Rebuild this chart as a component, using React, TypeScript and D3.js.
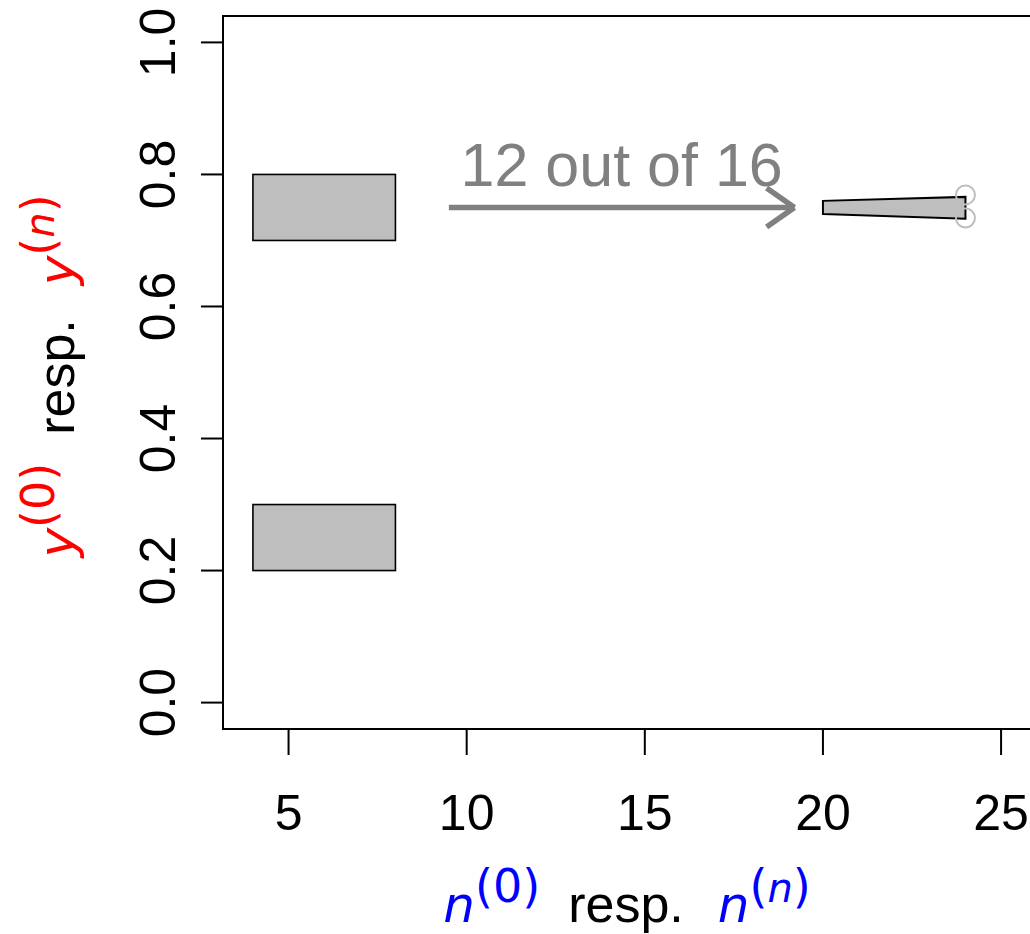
import React from "react";
import * as d3 from "d3";

const xTicks = [5, 10, 15, 20, 25];
const yTicks = [0, 0.2, 0.4, 0.6, 0.8, 1.0];
const yTickLabels = ["0.0", "0.2", "0.4", "0.6", "0.8", "1.0"];

// prior rectangles
const priorX0 = [4, 4];
const priorX1 = [8, 8];
const priorY0 = [0.7, 0.2];
const priorY1 = [0.8, 0.3];

// posterior trapezoid
const postX = [20, 24];
const postLower = [0.74, 0.733];
const postUpper = [0.76, 0.766];

// end points
const pointX = [24, 24];
const pointY = [0.769, 0.734];

// arrow
const arrowX = [9.5, 19.2];
const arrowY = 0.75;
const arrowLabel = "12 out of 16";
const arrowLabelY = 0.782;

const W = 1030;
const H = 934;

export default function App() {
  const x = d3.scaleLinear().domain([3.16, 25.84]).range([223, 1031]);
  const y = d3.scaleLinear().domain([-0.04, 1.04]).range([729, 16]);
  const font = "'Liberation Sans', Arial, sans-serif";
  const mathFont = "'DejaVu Sans', sans-serif";

  const polyPts: [number, number][] = [
    [x(postX[0]), y(postLower[0])],
    [x(postX[1]), y(postLower[1])],
    [x(postX[1]), y(postUpper[1])],
    [x(postX[0]), y(postUpper[0])],
  ];
  const line = d3.line();
  const polyPath = line(polyPts) + "Z";

  const ax0 = x(arrowX[0]);
  const ax1 = x(arrowX[1]);
  const ay = y(arrowY);
  const headLen = 34;
  const ang = (35 * Math.PI) / 180;

  return (
    <div style={{ position: "absolute", left: 0, top: 0 }}>
      <svg width={W} height={H} style={{ display: "block", background: "#fff" }}>
        {/* plot box */}
        <rect x={223} y={16} width={x(25.84) - 223} height={729 - 16} fill="none" stroke="#000" strokeWidth={2} />

        {/* prior rects */}
        {priorX0.map((d, i) => (
          <rect
            key={"r" + i}
            x={x(d)}
            y={y(priorY1[i])}
            width={x(priorX1[i]) - x(d)}
            height={y(priorY0[i]) - y(priorY1[i])}
            fill="#BEBEBE"
            stroke="#000"
            strokeWidth={1.6}
          />
        ))}

        {/* posterior polygon */}
        <path d={polyPath} fill="#BEBEBE" stroke="#000" strokeWidth={2} />

        {/* circles */}
        {pointX.map((d, i) => (
          <circle key={"c" + i} cx={x(d)} cy={y(pointY[i])} r={9.5} fill="none" stroke="#BEBEBE" strokeWidth={2} />
        ))}

        {/* arrow */}
        <g stroke="#808080" strokeWidth={5.5} fill="none" strokeLinecap="butt">
          <line x1={ax0} y1={ay} x2={ax1} y2={ay} />
          <line x1={ax1} y1={ay} x2={ax1 - headLen * Math.cos(ang)} y2={ay - headLen * Math.sin(ang)} />
          <line x1={ax1} y1={ay} x2={ax1 - headLen * Math.cos(ang)} y2={ay + headLen * Math.sin(ang)} />
        </g>
        <text
          x={x((arrowX[0] + arrowX[1]) / 2)}
          y={y(arrowLabelY)}
          textAnchor="middle"
          fontFamily={font}
          fontSize={61}
          fill="#808080"
        >
          {arrowLabel}
        </text>

        {/* x axis */}
        <line x1={x(xTicks[0])} x2={x(xTicks[xTicks.length - 1])} y1={729} y2={729} stroke="#000" strokeWidth={2} />
        {xTicks.map((t) => (
          <g key={"xt" + t}>
            <line x1={x(t)} x2={x(t)} y1={729} y2={755} stroke="#000" strokeWidth={2} />
            <text x={x(t)} y={830} textAnchor="middle" fontFamily={font} fontSize={50} fill="#000">
              {t}
            </text>
          </g>
        ))}

        {/* y axis */}
        <line x1={223} x2={223} y1={y(yTicks[0])} y2={y(yTicks[yTicks.length - 1])} stroke="#000" strokeWidth={2} />
        {yTicks.map((t, i) => (
          <g key={"yt" + t}>
            <line x1={201} x2={223} y1={y(t)} y2={y(t)} stroke="#000" strokeWidth={2} />
            <text
              transform={`translate(175,${y(t)}) rotate(-90)`}
              textAnchor="middle"
              fontFamily={font}
              fontSize={50}
              fill="#000"
            >
              {yTickLabels[i]}
            </text>
          </g>
        ))}

        {/* x label */}
        <text x={627} y={922} textAnchor="middle" fontFamily={mathFont} fontSize={50}>
          <tspan fill="#0000FF" fontStyle="italic">n</tspan>
          <tspan fill="#0000FF" fontSize={46} dy={-20}>(0)</tspan>
          <tspan fill="#000" dy={20} dx={28} fontFamily={font} fontSize={52}>resp.</tspan>
          <tspan fill="#0000FF" fontStyle="italic" dx={34}>n</tspan>
          <tspan fill="#0000FF" fontSize={46} dy={-20}>(</tspan>
          <tspan fill="#0000FF" fontSize={40} fontStyle="italic">n</tspan>
          <tspan fill="#0000FF" fontSize={46}>)</tspan>
        </text>

        {/* y label */}
        <text transform={`translate(74,376) rotate(-90)`} textAnchor="middle" fontFamily={mathFont} fontSize={50}>
          <tspan fill="#FF0000" fontStyle="italic">y</tspan>
          <tspan fill="#FF0000" fontSize={46} dy={-20}>(0)</tspan>
          <tspan fill="#000" dy={20} dx={28} fontFamily={font} fontSize={52}>resp.</tspan>
          <tspan fill="#FF0000" fontStyle="italic" dx={34}>y</tspan>
          <tspan fill="#FF0000" fontSize={46} dy={-20}>(</tspan>
          <tspan fill="#FF0000" fontSize={40} fontStyle="italic">n</tspan>
          <tspan fill="#FF0000" fontSize={46}>)</tspan>
        </text>
      </svg>
    </div>
  );
}
